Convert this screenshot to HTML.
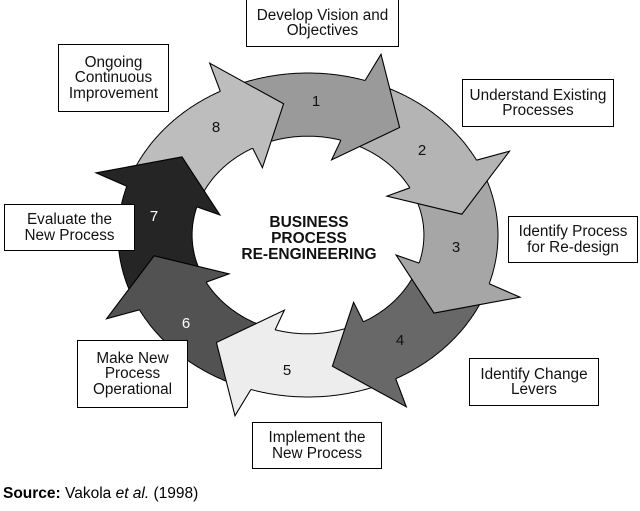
<!DOCTYPE html>
<html><head><meta charset="utf-8"><style>
html,body{margin:0;padding:0;background:#fff;}
body{width:640px;height:511px;position:relative;overflow:hidden;font-family:"Liberation Sans",sans-serif;}
.b{position:absolute;border:1px solid #000;background:#fff;font-size:15.3px;line-height:15.5px;text-align:center;display:flex;align-items:center;justify-content:center;box-sizing:border-box;color:#111;white-space:nowrap;}
#src{position:absolute;left:3px;top:485px;font-size:15.5px;}
</style></head><body>
<svg id="s" width="640" height="511" style="position:absolute;left:0;top:0"></svg>
<div class="b" style="left:246px;top:-1px;width:153px;height:48px">Develop Vision and<br>Objectives</div>
<div class="b" style="left:58px;top:44px;width:111px;height:68px">Ongoing<br>Continuous<br>Improvement</div>
<div class="b" style="left:462px;top:79px;width:152px;height:48px">Understand Existing<br>Processes</div>
<div class="b" style="left:508px;top:216px;width:130px;height:47px">Identify Process<br>for Re-design</div>
<div class="b" style="left:4px;top:204px;width:131px;height:47px">Evaluate the<br>New Process</div>
<div class="b" style="left:77px;top:340px;width:111px;height:68px">Make New<br>Process<br>Operational</div>
<div class="b" style="left:469px;top:358px;width:130px;height:48px">Identify Change<br>Levers</div>
<div class="b" style="left:252px;top:422px;width:130px;height:47px">Implement the<br>New Process</div>
<div id="src"><b>Source:</b> Vakola <i>et al.</i> (1998)</div>
<script>
var cx=308,cy=235,rx=190,ry=162,ri=0.61;
function P(t,r){var a=t*Math.PI/180;return [(cx+rx*r*Math.sin(a)).toFixed(1),(cy-ry*r*Math.cos(a)).toFixed(1)].join(',');}
var cols=['#9a9a9a','#b4b4b4','#a6a6a6','#686868','#ededed','#525252','#252525','#bdbdbd'];
var nums=[[316,101],[422,150],[456,247],[400,340],[287,370],[186,323],[154,216],[216,127]];
var s='',arcs='',heads='';
for(var k=0;k<8;k++){
 var h=18+45*k, st=h-45, en=h;
 var o=[],i=[];
 for(var t=st;t<=en;t+=0.5){o.push(P(t,1));i.push(P(t,ri));}
 s+='<polygon points="'+o.concat(i.slice().reverse()).join(' ')+'" fill="'+cols[k]+'"/>';
 arcs+='<polyline points="'+o.join(' ')+'" fill="none" stroke="#000" stroke-width="1"/>';
 arcs+='<polyline points="'+i.join(' ')+'" fill="none" stroke="#000" stroke-width="1"/>';
 var hp=[P(h-0.5,1),P(h+1,1.18),P(h+18,0.82),P(h-3,0.48),P(h-1.5,ri)];
 heads+='<polygon points="'+hp.join(' ')+'" fill="'+cols[k]+'" stroke="none"/>';
 heads+='<polyline points="'+hp.join(' ')+'" fill="none" stroke="#000" stroke-width="1.1" stroke-linejoin="miter"/>';
}
var tx='';
for(var k=0;k<8;k++){tx+='<text x="'+nums[k][0]+'" y="'+(nums[k][1]+5)+'" font-size="15" text-anchor="middle" fill="'+(k==5||k==6?'#fff':'#111')+'" font-family="Liberation Sans">'+(k+1)+'</text>';}
tx+='<g font-family="Liberation Sans" font-weight="bold" font-size="15.5" text-anchor="middle" fill="#111"><text x="309" y="227">BUSINESS</text><text x="309" y="243">PROCESS</text><text x="309" y="259">RE-ENGINEERING</text></g>';
document.getElementById('s').innerHTML=s+arcs+heads+tx;
</script>
</body></html>
